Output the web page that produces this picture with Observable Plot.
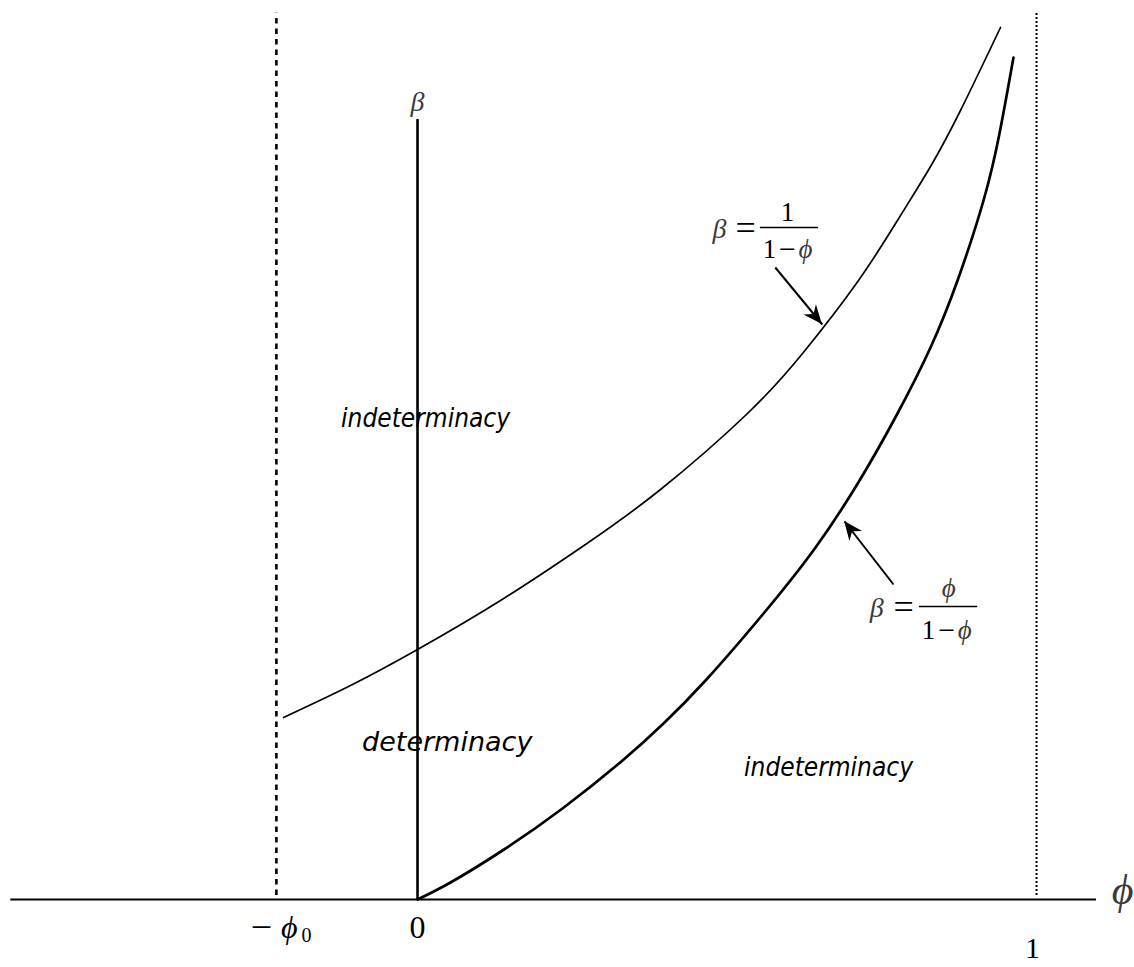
<!DOCTYPE html>
<html>
<head>
<meta charset="utf-8">
<script src="https://cdn.jsdelivr.net/npm/d3@7"></script>
<script src="https://cdn.jsdelivr.net/npm/@observablehq/plot@0.6"></script>
<style>
  html, body { margin: 0; padding: 0; background: #fff; }
  #chart svg { display: block; }
</style>
</head>
<body>
<div id="chart"></div>
<script>
// Boundary β = 1/(1−ϕ), sampled along the drawn curve (schematic β units)
const upperPhi  = [-0.2165, -0.1082, 0.0000, 0.1341, 0.2666, 0.3926, 0.5331, 0.6220, 0.7124, 0.7803, 0.8288, 0.8772, 0.9418];
const upperBeta = [ 0.728,   0.856,  1.000,  1.196,  1.412,  1.640,  1.944,  2.184,  2.476,  2.736,  2.932,  3.156,  3.488];

// Boundary β = ϕ/(1−ϕ)
const lowerPhi  = [0.0000, 0.0533, 0.1373, 0.2342, 0.3312, 0.3974, 0.4653, 0.5590, 0.6430, 0.7141, 0.7754, 0.8288, 0.8724, 0.9144, 0.9402, 0.9628];
const lowerBeta = [0.000,  0.068,  0.196,  0.364,  0.556,  0.704,  0.876,  1.144,  1.408,  1.676,  1.944,  2.208,  2.476,  2.796,  3.064,  3.368];

// Axes and guides
const phiAxisSpan = [-0.657, 1.097];   // horizontal ϕ axis
const betaAxisTop = 3.12;              // top of the vertical β axis
const phi0 = 0.228;                    // position of −ϕ0
const guideSpan = [0.016, 3.545];      // vertical extent of the −ϕ0 and ϕ = 1 guides

// Region names
const regionNames = ["indeterminacy", "determinacy", "indeterminacy"];
const regionPhi   = [0.013, 0.048, 0.664];
const regionBeta  = [1.924, 0.628, 0.528];

// Formula annotations: fraction-bar centre and the arrow pointing at each curve
const formulaPhi  = [0.601, 0.858];
const formulaBeta = [2.688, 1.172];
const arrowFrom = [[0.578, 2.528], [0.769, 1.260]];
const arrowTo   = [[0.654, 2.300], [0.690, 1.512]];

const upper = upperPhi.map((p, i) => ({phi: p, beta: upperBeta[i]}));
const lower = lowerPhi.map((p, i) => ({phi: p, beta: lowerBeta[i]}));
const regions = regionNames.map((t, i) => ({text: t, phi: regionPhi[i], beta: regionBeta[i]}));
const arrows = arrowFrom.map((f, i) => ({x1: f[0], y1: f[1], x2: arrowTo[i][0], y2: arrowTo[i][1]}));

const serif = "'Liberation Serif', 'Times New Roman', serif";
const sans = "'DejaVu Sans', Verdana, sans-serif";
const sansCond = "'DejaVu Sans Condensed', 'DejaVu Sans', sans-serif";
const greek = "#3a3a3a";

// One piece of a typeset formula placed relative to an anchor
function piece(anchor, text, dx, dy, opts = {}) {
  return Plot.text([anchor], {
    x: "phi", y: "beta", text: () => text, dx, dy,
    fontFamily: serif, fontSize: opts.size ?? 26,
    fontStyle: opts.italic ? "italic" : "normal",
    fill: opts.fill ?? "black", textAnchor: "middle", lineAnchor: "middle"
  });
}

const fUpper = {phi: formulaPhi[0], beta: formulaBeta[0]};
const fLower = {phi: formulaPhi[1], beta: formulaBeta[1]};
const barHalf = 0.047; // half width of a fraction bar, in ϕ units

function fractionBar(anchor) {
  return Plot.ruleY([anchor], {y: "beta", x1: d => d.phi - barHalf, x2: d => d.phi + barHalf, stroke: "black", strokeWidth: 1.4});
}

// Filled, notched arrowheads at the tip of each arrow, oriented with the scales
function arrowHeads(index, scales) {
  const g = d3.create("svg:g");
  for (const a of arrows) {
    const x1 = scales.x(a.x1), y1 = scales.y(a.y1);
    const x2 = scales.x(a.x2), y2 = scales.y(a.y2);
    const ang = Math.atan2(y2 - y1, x2 - x1) * 180 / Math.PI;
    g.append("path")
      .attr("d", "M0,0L-19,-8L-13,0L-19,8Z")
      .attr("fill", "black")
      .attr("transform", `translate(${x2},${y2}) rotate(${ang})`);
  }
  return g.node();
}

const origin = {phi: 0, beta: 0};
const one = {phi: 1, beta: 0};
const minusPhi0 = {phi: -phi0, beta: 0};
const axisEnd = {phi: phiAxisSpan[1], beta: 0};
const betaTop = {phi: 0, beta: betaAxisTop};

const chart = Plot.plot({
  width: 1134,
  height: 967,
  margin: 0,
  x: {domain: [-0.6737, 1.1583], axis: null},
  y: {domain: [-0.272, 3.596], axis: null},
  marks: [
    // guides at −ϕ0 (dashed) and ϕ = 1 (dotted)
    Plot.ruleX([-phi0], {y1: guideSpan[0], y2: guideSpan[1], stroke: "black", strokeWidth: 2.6, strokeDasharray: "5.5,5"}),
    Plot.ruleX([1], {y1: guideSpan[0], y2: guideSpan[1], stroke: "black", strokeWidth: 2, strokeDasharray: "2,2"}),
    // axes
    Plot.ruleY([0], {x1: phiAxisSpan[0], x2: phiAxisSpan[1], stroke: "black", strokeWidth: 2}),
    Plot.ruleX([0], {y1: 0, y2: betaAxisTop, stroke: "black", strokeWidth: 2.6}),
    // boundary curves
    Plot.line(upper, {x: "phi", y: "beta", curve: "natural", stroke: "black", strokeWidth: 1.7}),
    Plot.line(lower, {x: "phi", y: "beta", curve: "natural", stroke: "black", strokeWidth: 2.7}),
    // region names
    Plot.text(regions.filter((d, i) => i !== 1), {x: "phi", y: "beta", text: "text", fontFamily: sansCond, fontSize: 26, fontStyle: "italic", fill: "black", textAnchor: "middle", lineAnchor: "middle"}),
    Plot.text(regions.filter((d, i) => i === 1), {x: "phi", y: "beta", text: "text", fontFamily: sans, fontSize: 27, fontStyle: "italic", fill: "black", textAnchor: "middle", lineAnchor: "middle"}),
    // arrows
    Plot.link(arrows, {x1: "x1", y1: "y1", x2: "x2", y2: "y2", stroke: "black", strokeWidth: 2}),
    arrowHeads,
    // β = 1/(1−ϕ)
    piece(fUpper, "β", -70, 2, {italic: true, fill: greek, size: 28}),
    piece(fUpper, "=", -44, 1, {size: 36}),
    piece(fUpper, "1", -2, -15, {size: 27}),
    fractionBar(fUpper),
    piece(fUpper, "1", -20, 22, {size: 27}),
    piece(fUpper, "−", -2, 22, {size: 30}),
    piece(fUpper, "ϕ", 16, 22, {italic: true, fill: greek, size: 27}),
    // β = ϕ/(1−ϕ)
    piece(fLower, "β", -72, 2, {italic: true, fill: greek, size: 28}),
    piece(fLower, "=", -45, 1, {size: 36}),
    piece(fLower, "ϕ", 0, -18, {italic: true, fill: greek, size: 27}),
    fractionBar(fLower),
    piece(fLower, "1", -20, 24, {size: 27}),
    piece(fLower, "−", -2, 24, {size: 30}),
    piece(fLower, "ϕ", 16, 24, {italic: true, fill: greek, size: 27}),
    // axis labels
    piece(betaTop, "β", 0, -17, {italic: true, fill: greek, size: 28}),
    piece(axisEnd, "ϕ", 26, -9, {italic: true, fill: greek, size: 42}),
    piece(one, "1", -4, 49, {size: 30}),
    piece(origin, "0", 0, 28, {size: 32}),
    piece(minusPhi0, "−", -15, 28, {size: 38}),
    piece(minusPhi0, "ϕ", 13, 28, {italic: true, size: 32}),
    piece(minusPhi0, "0", 30, 36, {size: 20})
  ]
});

document.getElementById("chart").append(chart);
</script>
</body>
</html>
